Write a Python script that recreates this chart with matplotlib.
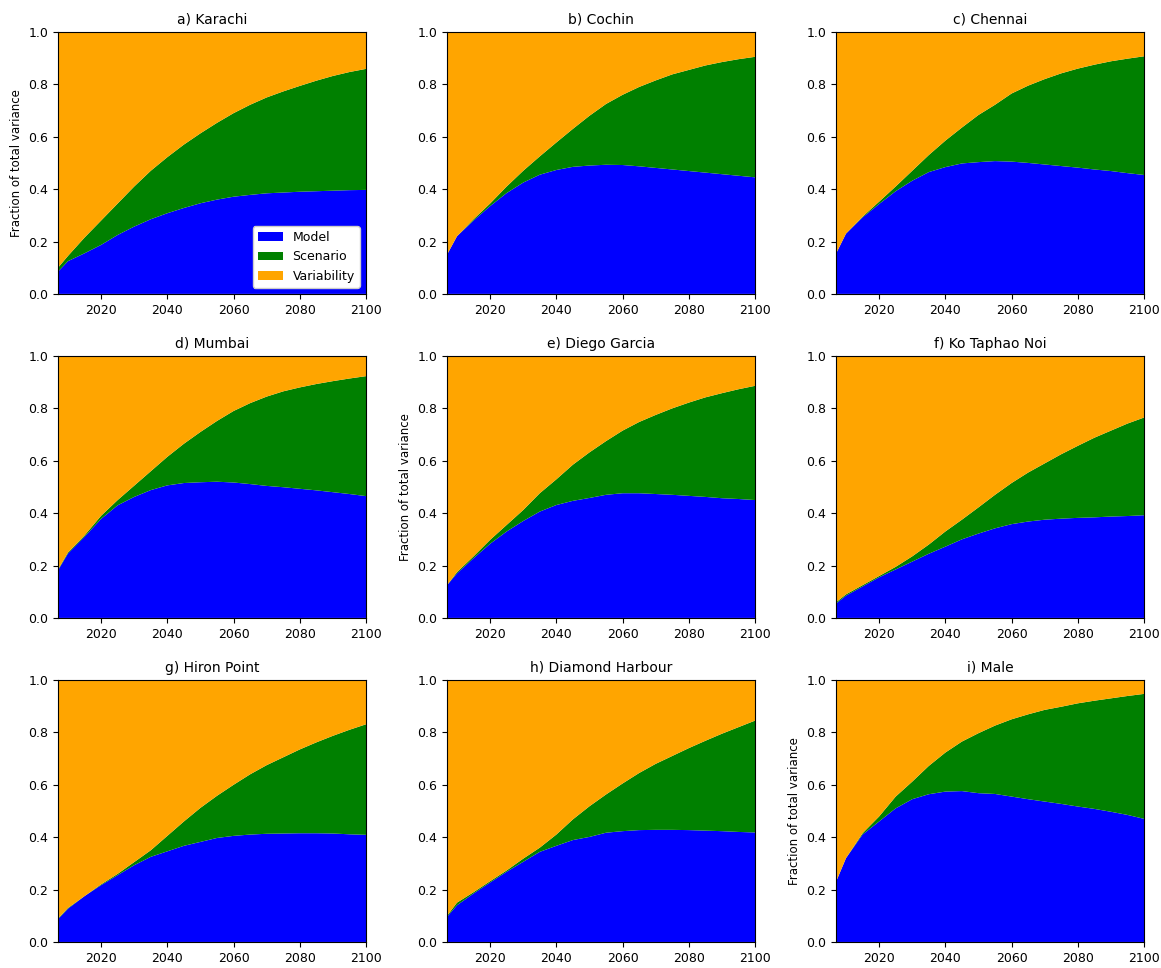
import numpy as np
import matplotlib.pyplot as plt

years = [2007, 2010, 2015, 2020, 2025, 2030, 2035, 2040, 2045, 2050,
         2055, 2060, 2065, 2070, 2075, 2080, 2085, 2090, 2095, 2100]

titulos = ["a) Karachi", "b) Cochin", "c) Chennai",
           "d) Mumbai", "e) Diego Garcia", "f) Ko Taphao Noi",
           "g) Hiron Point", "h) Diamond Harbour", "i) Male"]

# fracao do modelo (azul)
model = {}
model["a"] = [.085, .125, .155, .187, .225, .257, .285, .308, .328, .346, .36, .371, .378, .384, .387, .39, .392, .394, .396, .397]
model["b"] = [.15, .22, .28, .335, .385, .425, .455, .473, .485, .49, .493, .492, .487, .481, .475, .469, .463, .457, .451, .445]
model["c"] = [.154, .23, .292, .343, .392, .432, .465, .484, .498, .503, .507, .505, .5, .494, .488, .482, .475, .469, .461, .454]
model["d"] = [.182, .246, .31, .378, .43, .462, .488, .506, .515, .518, .52, .517, .511, .504, .499, .493, .487, .48, .473, .465]
model["e"] = [.125, .17, .228, .283, .33, .37, .406, .431, .447, .458, .47, .476, .476, .473, .47, .466, .462, .457, .454, .45]
model["f"] = [.055, .085, .12, .155, .185, .215, .245, .272, .30, .322, .342, .358, .368, .375, .379, .382, .384, .387, .389, .392]
model["g"] = [.087, .127, .175, .217, .255, .293, .325, .346, .367, .382, .397, .405, .41, .413, .414, .415, .415, .414, .411, .409]
model["h"] = [.096, .14, .185, .227, .268, .306, .344, .367, .389, .401, .417, .423, .427, .428, .428, .427, .425, .423, .42, .418]
model["i"] = [.23, .32, .41, .46, .51, .545, .564, .574, .576, .568, .565, .555, .545, .536, .527, .517, .508, .497, .485, .47]

# fracao do cenario (verde)
scenario = {}
scenario["a"] = [.015, .02, .06, .093, .12, .153, .185, .214, .242, .267, .293, .319, .344, .366, .386, .404, .422, .438, .451, .462]
scenario["b"] = [0, 0, .005, .01, .025, .045, .07, .105, .145, .19, .232, .268, .303, .334, .363, .386, .409, .428, .445, .46]
scenario["c"] = [0, 0, .003, .009, .018, .038, .065, .101, .137, .18, .215, .26, .295, .326, .354, .378, .4, .419, .437, .453]
scenario["d"] = [.003, .004, .005, .012, .02, .043, .072, .109, .15, .192, .232, .273, .309, .341, .366, .387, .406, .424, .441, .458]
scenario["e"] = [0, .005, .007, .015, .025, .042, .07, .098, .138, .174, .205, .239, .272, .302, .33, .356, .38, .401, .419, .436]
scenario["f"] = [.005, .005, .005, .005, .01, .02, .035, .058, .075, .10, .128, .157, .187, .215, .246, .275, .304, .328, .353, .373]
scenario["g"] = [.003, .003, 0, .003, .005, .012, .025, .059, .093, .13, .161, .195, .23, .262, .291, .32, .347, .373, .399, .422]
scenario["h"] = [.004, .01, .005, .005, .005, .012, .016, .043, .079, .117, .146, .182, .218, .252, .282, .313, .343, .372, .40, .427]
scenario["i"] = [0, 0, .005, .019, .045, .067, .108, .149, .189, .229, .261, .295, .324, .35, .371, .394, .413, .433, .454, .477]

cores = ["blue", "green", "orange"]
nomes = ["Model", "Scenario", "Variability"]

fig, axs = plt.subplots(3, 3, figsize=(11.61, 9.68), dpi=100)
plt.subplots_adjust(left=0.05, right=0.9854, bottom=0.0269, top=0.967, wspace=0.263, hspace=0.237)

for k, ax in enumerate(axs.flat):
    chave = "abcdefghi"[k]
    m = np.array(model[chave])
    s = np.array(scenario[chave])
    v = 1 - m - s
    ax.stackplot(years, m, s, v, colors=cores, labels=nomes, linewidth=0)
    ax.set_xlim(2007, 2100)
    ax.set_ylim(0, 1)
    ax.set_xticks([2020, 2040, 2060, 2080, 2100])
    ax.set_yticks([0, 0.2, 0.4, 0.6, 0.8, 1.0])
    ax.tick_params(labelsize=9)
    ax.set_title(titulos[k], fontsize=10)
    if k in (0, 4, 8):
        ax.set_ylabel("Fraction of total variance", fontsize=8.5)
    if k == 0:
        ax.legend(loc="lower right", fontsize=9, framealpha=1)

plt.savefig("out.png")
plt.close()
